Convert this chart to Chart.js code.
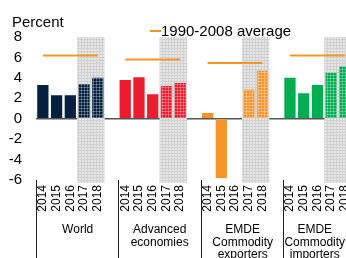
<!DOCTYPE html>
<html>
<head>
<meta charset="utf-8">
<script src="https://cdn.jsdelivr.net/npm/chart.js@4/dist/chart.umd.min.js"></script>
<style>
  html, body { margin: 0; padding: 0; overflow: hidden; background: #fff; }
  #wrap { width: 378px; height: 258px; }
</style>
</head>
<body>
<div id="wrap"><canvas id="chartCanvas"></canvas></div>
<script>
// Chart data
const years = ['2014', '2015', '2016', '2017', '2018'];
const groupNames = [['World'], ['Advanced', 'economies'], ['EMDE', 'Commodity', 'exporters'], ['EMDE', 'Commodity', 'importers']];
const world = [3.3, 2.3, 2.3, 3.4, 4.0];
const advanced = [3.8, 4.05, 2.4, 3.2, 3.5];
const exporters = [0.55, -5.8, 0, 2.85, 4.7];
const importers = [4.0, 2.5, 3.3, 4.5, 5.1];
const averages = [6.2, 5.8, 5.45, 6.2];
const forecastYears = ['2017', '2018'];
const yTicks = [8, 6, 4, 2, 0, -2, -4, -6];

const groupColors = ['#05213f', '#ec1c2e', '#f7952c', '#00ad51'];
const FONT = "'Liberation Sans', Arial, sans-serif";

/**
 * Small repeating pattern used for forecast years
 */
function makePattern(base, lineColor) {
    const c = document.createElement('canvas');
    c.width = 3;
    c.height = 3;
    const g = c.getContext('2d');
    g.fillStyle = base;
    g.fillRect(0, 0, 3, 3);
    g.fillStyle = lineColor;
    g.fillRect(0, 0, 3, 1);
    g.fillRect(0, 0, 1, 3);
    return g.createPattern(c, 'repeat');
}

// Build flat category list: 5 years per group plus a blank spacer
const seriesList = [world, advanced, exporters, importers];
const labels = [];
const barValues = [];
const barColors = [];
const avgValues = [];
const groupStart = [];
seriesList.forEach((series, gi) => {
    groupStart.push(labels.length);
    years.forEach((yr, i) => {
        labels.push(yr);
        barValues.push(series[i]);
        avgValues.push(averages[gi]);
        barColors.push(forecastYears.includes(yr)
            ? makePattern(groupColors[gi], 'rgba(255,255,255,0.28)')
            : groupColors[gi]);
    });
    labels.push('');
    barValues.push(null);
    avgValues.push(null);
    barColors.push('rgba(0,0,0,0)');
});

const shadePattern = makePattern('#e6e6e6', '#d0d0d0');

// Draws shading, titles, group separators and group names
const decorPlugin = {
    id: 'decor',
    beforeDatasetsDraw(chart) {
        const ctx = chart.ctx;
        const x = chart.scales.x;
        const area = chart.chartArea;
        const slot = x.getPixelForValue(1) - x.getPixelForValue(0);
        ctx.save();
        ctx.fillStyle = shadePattern;
        groupStart.forEach(s => {
            const i0 = s + years.indexOf(forecastYears[0]);
            const left = x.getPixelForValue(i0) - slot / 2;
            ctx.fillRect(left, area.top, slot * forecastYears.length, area.bottom - area.top + 3);
        });
        ctx.restore();
    },
    afterDraw(chart) {
        const ctx = chart.ctx;
        const x = chart.scales.x;
        const area = chart.chartArea;
        const slot = x.getPixelForValue(1) - x.getPixelForValue(0);
        const visibleRight = Math.min(window.innerWidth, chart.width);
        ctx.save();
        ctx.fillStyle = '#000';
        ctx.font = '15px ' + FONT;
        ctx.textAlign = 'left';
        ctx.textBaseline = 'alphabetic';
        ctx.fillText('Percent', 12, 27);
        ctx.fillText('1990-2008 average', 161, 36);
        ctx.strokeStyle = '#f7952c';
        ctx.lineWidth = 2;
        ctx.beginPath();
        ctx.moveTo(150, 31);
        ctx.lineTo(161, 31);
        ctx.stroke();

        ctx.strokeStyle = '#222';
        ctx.lineWidth = 1;
        ctx.font = '12px ' + FONT;
        ctx.textAlign = 'center';
        groupStart.forEach((s, gi) => {
            const left = Math.round(x.getPixelForValue(s) - slot / 2) + 0.5;
            ctx.beginPath();
            ctx.moveTo(left, area.bottom);
            ctx.lineTo(left, chart.height);
            ctx.stroke();
            // last group is clipped by the window, center it in what is visible
            const cx = Math.min(left + slot * 3, (left + visibleRight) / 2);
            groupNames[gi].forEach((line, li) => {
                ctx.fillText(line, cx, 233 + li * 12.5);
            });
        });
        ctx.restore();
    }
};

const ctx = document.getElementById('chartCanvas').getContext('2d');

new Chart(ctx, {
    type: 'bar',
    data: {
        labels: labels,
        datasets: [{
            type: 'line',
            label: '1990-2008 average',
            data: avgValues,
            borderColor: '#f7952c',
            borderWidth: 2,
            pointRadius: 0,
            spanGaps: false,
            order: 0
        }, {
            label: 'Growth',
            data: barValues,
            backgroundColor: barColors,
            borderWidth: 0,
            categoryPercentage: 1,
            barPercentage: 0.82,
            order: 1
        }]
    },
    options: {
        responsive: true,
        maintainAspectRatio: false,
        animation: false,
        layout: { padding: { top: 37, left: 0, right: 0, bottom: 0 } },
        plugins: {
            legend: { display: false },
            tooltip: { enabled: false }
        },
        scales: {
            x: {
                grid: { display: false, drawTicks: false },
                border: { display: false },
                ticks: {
                    autoSkip: false,
                    minRotation: 90,
                    maxRotation: 90,
                    padding: 5,
                    color: '#000',
                    font: { family: FONT, size: 12 }
                },
                afterFit(scale) { scale.height = 78; }
            },
            y: {
                min: -6,
                max: 8,
                afterBuildTicks(scale) {
                    scale.ticks = yTicks.map(v => ({ value: v }));
                },
                grid: {
                    drawTicks: false,
                    color: c => (c.tick && c.tick.value === 0 ? '#555' : 'rgba(0,0,0,0)'),
                    lineWidth: 1.5
                },
                border: { display: false },
                ticks: {
                    autoSkip: false,
                    padding: 14,
                    color: '#000',
                    font: { family: FONT, size: 15 }
                },
                afterFit(scale) { scale.width = 36; }
            }
        }
    },
    plugins: [decorPlugin]
});
</script>
</body>
</html>
